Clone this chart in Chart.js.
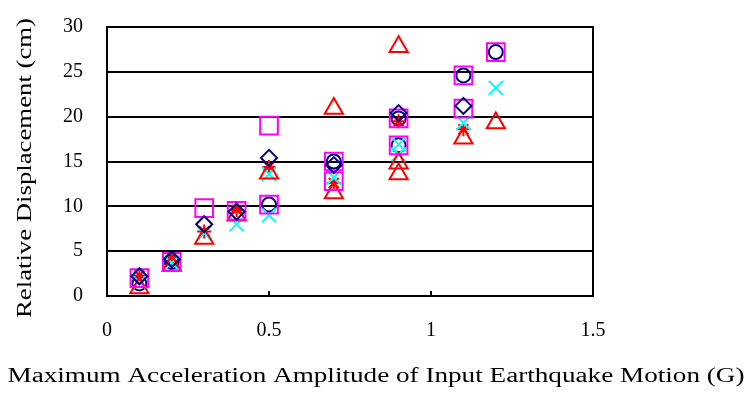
<!DOCTYPE html>
<html>
<head>
<meta charset="utf-8">
<script src="https://cdn.jsdelivr.net/npm/chart.js@4"></script>
<style>
html,body{margin:0;padding:0;background:#fff;}
#wrap{width:754px;height:394px;position:relative;}
</style>
</head>
<body>
<div id="wrap"><canvas id="c" width="754" height="394"></canvas></div>
<script>
const xTitle = 'Maximum Acceleration Amplitude of Input Earthquake Motion (G)';
const yTitle = 'Relative Displacement (cm)';
const xTicks = [0, 0.5, 1, 1.5];
const yTicks = [0, 5, 10, 15, 20, 25, 30];

const diamondX = [0.1, 0.2, 0.3, 0.4, 0.5, 0.7, 0.9, 1.1];
const diamondY = [2.2, 4.1, 8.0, 9.4, 15.4, 14.6, 20.4, 21.2];

const squareX = [0.1, 0.2, 0.3, 0.4, 0.5, 0.5, 0.7, 0.7, 0.9, 0.9, 1.1, 1.1, 1.2];
const squareY = [2.0, 3.8, 9.8, 9.5, 19.0, 10.2, 15.0, 12.8, 19.8, 16.8, 24.6, 20.9, 27.2];

const triangleX = [0.1, 0.2, 0.3, 0.4, 0.5, 0.7, 0.7, 0.9, 0.9, 0.9, 1.1, 1.2];
const triangleY = [0.9, 3.4, 6.4, 9.0, 13.7, 20.9, 11.5, 27.8, 14.8, 13.6, 17.6, 19.3];

const crossX = [0.1, 0.2, 0.3, 0.4, 0.5, 0.5, 0.7, 0.9, 0.9, 1.1, 1.2];
const crossY = [1.5, 3.7, 7.0, 8.0, 9.0, 13.6, 13.2, 15.8, 16.9, 19.3, 23.2];

const starX = [0.1, 0.2, 0.3, 0.4, 0.5, 0.7, 0.9, 1.1];
const starY = [2.3, 3.9, 7.2, 9.6, 14.4, 12.6, 19.5, 18.6];

const circleX = [0.1, 0.2, 0.5, 0.7, 0.9, 0.9, 1.1, 1.2];
const circleY = [1.4, 3.8, 10.2, 15.0, 19.8, 16.8, 24.6, 27.2];

function pts(xs, ys) { return xs.map((x, i) => ({x: x, y: ys[i]})); }

function ds(label, xs, ys, style, color, radius) {
  return {
    label: label,
    data: pts(xs, ys),
    pointStyle: style,
    pointRadius: radius,
    pointHoverRadius: radius,
    pointBorderColor: color,
    borderColor: color,
    pointBackgroundColor: 'rgba(0,0,0,0)',
    backgroundColor: 'rgba(0,0,0,0)',
    pointBorderWidth: 2,
    showLine: false
  };
}

const titleFont = {family: '"Liberation Serif", serif', size: 20};
const tickFont = {family: '"Liberation Serif", "DejaVu Serif", serif', size: 20};

// stretch a scale title along its reading direction to a target length and centre
function stretchTitle(s, text, targetLen, targetCenter) {
  if (s._stretched) return;
  const orig = s.drawTitle.bind(s);
  s.drawTitle = function () {
    const ctx = this.ctx;
    ctx.save();
    ctx.font = 'normal ' + titleFont.size + 'px ' + titleFont.family;
    const natural = ctx.measureText(text).width;
    const avail = this.isHorizontal() ? (this.right - this.left) : (this.bottom - this.top);
    const w = Math.min(natural, avail);
    const k = targetLen / w;
    if (this.isHorizontal()) {
      const c0 = (this.left + this.right) / 2;
      ctx.translate(targetCenter, 0); ctx.scale(k, 1); ctx.translate(-c0, 0);
    } else {
      const c0 = (this.top + this.bottom) / 2;
      ctx.translate(0, targetCenter); ctx.scale(1, k); ctx.translate(0, -c0);
    }
    orig();
    ctx.restore();
  };
  s._stretched = true;
}

const framePlugin = {
  id: 'frame',
  afterDatasetsDraw(chart) {
    const {ctx, chartArea: a, scales} = chart;
    ctx.save();
    ctx.strokeStyle = '#000';
    ctx.lineWidth = 2;
    ctx.strokeRect(a.left, a.top, a.right - a.left, a.bottom - a.top);
    scales.x.ticks.forEach(t => {
      const px = scales.x.getPixelForValue(t.value);
      ctx.beginPath(); ctx.moveTo(px, a.bottom); ctx.lineTo(px, a.bottom - 5); ctx.stroke();
    });
    ctx.restore();
  }
};

new Chart(document.getElementById('c'), {
  type: 'scatter',
  data: {
    datasets: [
      ds('Diamond', diamondX, diamondY, 'rectRot', '#000080', 8),
      ds('Square', squareX, squareY, 'rect', '#FF00FF', 12.5),
      ds('Triangle', triangleX, triangleY, 'triangle', '#FF0000', 10.5),
      ds('Cross', crossX, crossY, 'crossRot', '#00FFFF', 10),
      ds('Star', starX, starY, 'star', '#FF0000', 7),
      ds('Circle', circleX, circleY, 'circle', '#000080', 7)
    ]
  },
  options: {
    responsive: false,
    animation: false,
    events: [],
    layout: {padding: {left: 0, right: 161, top: 27, bottom: 0}},
    plugins: {legend: {display: false}, tooltip: {enabled: false}},
    scales: {
      x: {
        type: 'linear', min: 0, max: 1.5,
        afterFit(s) { s.height = 98; s.paddingLeft = 0; s.paddingRight = 0; stretchTitle(s, xTitle, 737, 376); },
        afterBuildTicks(s) { s.ticks = xTicks.map(v => ({value: v})); },
        ticks: {font: tickFont, color: '#000', padding: 23, maxRotation: 0,
          callback: v => String(v)},
        grid: {display: false, drawTicks: false},
        border: {display: false},
        title: {display: true, text: xTitle, font: titleFont, color: '#000', padding: {top: 0, bottom: 5}}
      },
      y: {
        type: 'linear', min: 0, max: 30,
        afterFit(s) { s.width = 107; s.paddingTop = 0; s.paddingBottom = 0; stretchTitle(s, yTitle, 300, 168); },
        afterBuildTicks(s) { s.ticks = yTicks.map(v => ({value: v})); },
        ticks: {font: tickFont, color: '#000', padding: 24},
        grid: {color: '#000', lineWidth: 2, drawTicks: false},
        border: {display: false},
        title: {display: true, text: yTitle, font: titleFont, color: '#000', padding: {top: 14, bottom: 0}}
      }
    }
  },
  plugins: [framePlugin]
});
</script>
</body>
</html>
